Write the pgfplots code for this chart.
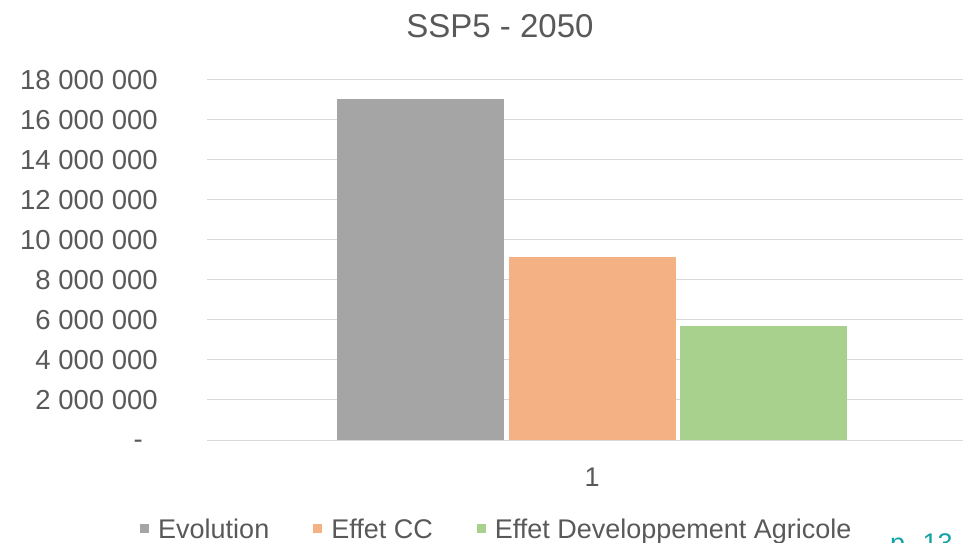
\documentclass[border=0pt]{standalone}
\usepackage{fontspec}
\setmainfont{Liberation Sans}
\usepackage{pgfplots}
\pgfplotsset{compat=1.18}
\definecolor{txt}{HTML}{595959}
\definecolor{gridc}{HTML}{D9D9D9}
\definecolor{cgray}{HTML}{A5A5A5}
\definecolor{corange}{HTML}{F4B183}
\definecolor{cgreen}{HTML}{A9D18E}
\definecolor{teal}{HTML}{12A3A3}
\newcommand\dashlbl{\raisebox{0pt}[17.6bp][0pt]{-}\rule{15bp}{0pt}}
\begin{document}
\begin{tikzpicture}
\useasboundingbox (0,0) rectangle (963bp,543bp);
\begin{axis}[
  at={(207bp,103bp)}, anchor=south west,
  scale only axis, width=756bp, height=360bp,
  xmin=-1, xmax=0.9636, ymin=0, ymax=18000000,
  axis x line*=bottom, axis y line*=left,
  x axis line style={draw=gridc, line width=1bp},
  y axis line style={draw=none},
  xtick={0}, xticklabels={1},
  xtick style={draw=none},
  xticklabel style={anchor=north, inner sep=0pt, font=\fontsize{27bp}{32bp}\selectfont, text=txt},
  xticklabel shift=23bp,
  extra x ticks={-1}, extra x tick labels={},
  extra x tick style={tick align=outside, major tick length=7bp, tick style={draw=gridc, line width=1bp}, xmajorgrids=false},
  ytick={0,2000000,4000000,6000000,8000000,10000000,12000000,14000000,16000000,18000000},
  yticklabels={\dashlbl,2 000 000,4 000 000,6 000 000,8 000 000,10 000 000,12 000 000,14 000 000,16 000 000,18 000 000},
  ymajorgrids, major grid style={draw=gridc, line width=1bp},
  ytick style={draw=none},
  yticklabel style={anchor=east, inner sep=0pt, font=\fontsize{27.5bp}{32bp}\selectfont, text=txt},
  yticklabel shift=49bp,
  scaled y ticks=false,
  ybar, bar shift=0pt, bar width=0.434,
  legend style={at={(axis description cs:-0.0886,-0.2472)}, anchor=west, draw=none, fill=none, inner sep=0pt,
    legend columns=-1, font=\fontsize{27bp}{32bp}\selectfont, text=txt,
    /tikz/every odd column/.append style={column sep=7bp},
    /tikz/every even column/.append style={column sep=42bp}},
  legend image code/.code={\fill[#1] (0bp,-4.5bp) rectangle (9bp,4.5bp);},
]
\addplot[fill=cgray, draw=none] coordinates {(-0.4455,17050000)};
\addplot[fill=corange, draw=none] coordinates {(0.0013,9150000)};
\addplot[fill=cgreen, draw=none] coordinates {(0.4455,5700000)};
\legend{Evolution,Effet CC,Effet Developpement Agricole}
\end{axis}
\node[anchor=base, text=txt, font=\fontsize{33bp}{38bp}\selectfont, inner sep=0pt] at (500bp,505bp) {SSP5 - 2050};
\node[anchor=base west, text=teal, font=\fontsize{27bp}{32bp}\selectfont, inner sep=0pt] at (890bp,-9bp) {p. 13};
\end{tikzpicture}
\end{document}
